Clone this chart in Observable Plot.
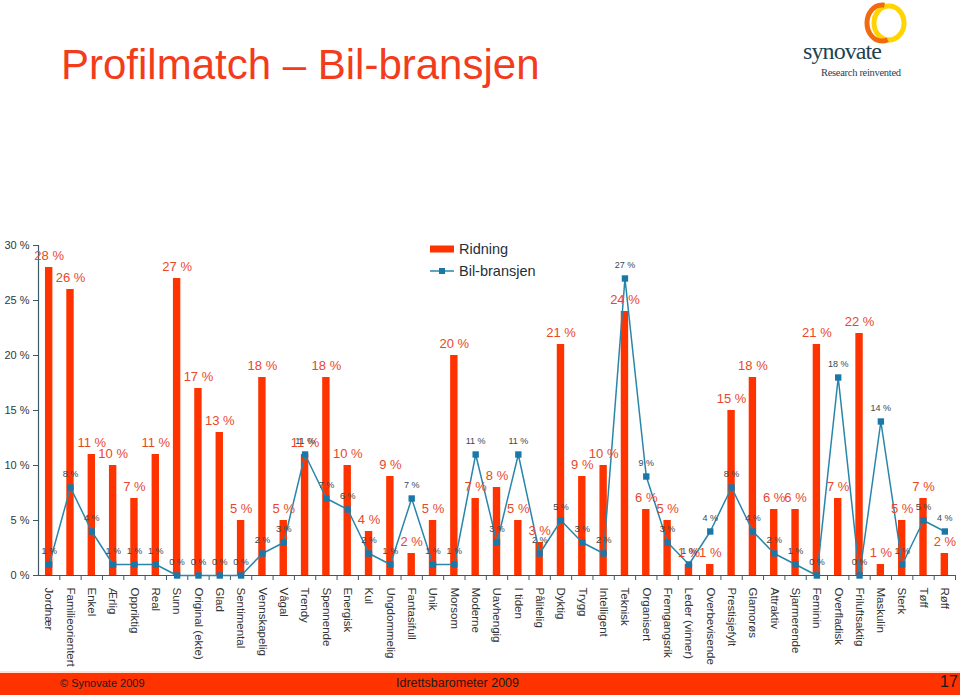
<!DOCTYPE html>
<html><head><meta charset="utf-8">
<script src="https://cdn.jsdelivr.net/npm/d3@7"></script>
<script src="https://cdn.jsdelivr.net/npm/@observablehq/plot@0.6"></script>
<style>
body{margin:0;width:960px;height:695px;position:relative;background:#fff;font-family:"Liberation Sans",Arial,sans-serif;overflow:hidden}
#title{position:absolute;left:61px;top:44px;font-size:42px;line-height:1;color:#f23c1c;white-space:nowrap}
#chart{position:absolute;left:0;top:230px;width:960px}
#legend{position:absolute;left:430px;top:238px;font-size:14.5px;color:#1f2f3a;line-height:22px}
#legend div{display:flex;align-items:center;height:22px}
#legend svg{margin-right:5px}
#footer{position:absolute;left:0;top:671px;width:960px;height:24px;background:#ff3300;border-top:2px solid #ffe0d2;box-sizing:border-box;color:#1a1a1a}
#footer span{position:absolute;top:3px;white-space:nowrap}
#logo{position:absolute;left:780px;top:0px}
</style></head>
<body>
<div id="title">Profilmatch – Bil-bransjen</div>
<svg id="logo" width="180" height="85">
  <ellipse cx="109" cy="23" rx="15" ry="17" fill="none" stroke="#ffd400" stroke-width="5"/>
  <ellipse cx="102" cy="23" rx="15" ry="18" fill="none" stroke="#f26a10" stroke-width="5" stroke-dasharray="60 40" stroke-dashoffset="-20"/>
  <text x="23" y="59" font-family="Liberation Serif, DejaVu Serif, serif" font-size="24" fill="#1d4352" textLength="79">synovate</text>
  <text x="41" y="76" font-family="Liberation Serif, DejaVu Serif, serif" font-size="10.5" fill="#1d4352" textLength="80">Research reinvented</text>
</svg>
<div id="chart"></div>
<div id="legend">
  <div><svg width="24" height="10"><rect x="0" y="1.5" width="24" height="7" fill="#ff3300"/></svg>Ridning</div>
  <div><svg width="24" height="10"><line x1="0" y1="5" x2="24" y2="5" stroke="#2a86a8" stroke-width="1.5"/><rect x="9" y="2" width="6" height="6" fill="#1a78a8"/></svg>Bil-bransjen</div>
</div>
<div id="footer">
  <span style="left:60px;font-size:11px;top:4px">© Synovate 2009</span>
  <span style="left:396px;font-size:12.5px;top:3px">Idrettsbarometer 2009</span>
  <span style="left:940px;font-size:16px;top:0px">17</span>
</div>
<script>
const categories = ["Jordnær","Familieorientert","Enkel","Ærlig","Oppriktig","Real","Sunn","Original (ekte)","Glad","Sentimental",
  "Vennskapelig","Vågal","Trendy","Spennende","Energisk","Kul","Ungdommelig","Fantasifull","Unik","Morsom",
  "Moderne","Uavhengig","I tiden","Pålitelig","Dyktig","Trygg","Intelligent","Teknisk","Organisert","Fremgangsrik",
  "Leder (vinner)","Overbevisende","Prestisjefylt","Glamorøs","Attraktiv","Sjarmerende","Feminin","Overfladisk","Friluftsaktig","Maskulin",
  "Sterk","Tøff","Røff"];
const ridning = [28,26,11,10,7,11,27,17,13,5,18,5,11,18,10,4,9,2,5,20,7,8,5,3,21,9,10,24,6,5,1,1,15,18,6,6,21,7,22,1,5,7,2];
const bilbransjen = [1,8,4,1,1,1,0,0,0,0,2,3,11,7,6,2,1,7,1,1,11,3,11,2,5,3,2,27,9,3,1,4,8,4,2,1,0,18,0,14,1,5,4];
const yTicks = [0,5,10,15,20,25,30];

const data = categories.map((c,i)=>({cat:c, r:ridning[i], b:bilbransjen[i]}));
const W = 960, H = 440, mL = 38, mR = 5, mT = 15, mB = 95;
const step = (W - mL - mR) / categories.length;
const barInset = (step - 7.4) / 2;
const axisColor = "#3d5a66";

const chart = Plot.plot({
  width: W, height: H,
  marginLeft: mL, marginRight: mR, marginTop: mT, marginBottom: mB,
  style: {fontFamily: "'Liberation Sans', Arial, sans-serif", background: "transparent"},
  x: {type: "band", domain: categories, padding: 0, round: false, label: null},
  y: {domain: [0, 30], label: null},
  marks: [
    Plot.barY(data, {x: "cat", y: "r", fill: "#ff3300", insetLeft: barInset, insetRight: barInset}),
    Plot.ruleY([0], {stroke: axisColor, strokeWidth: 1.2}),
    Plot.ruleX([categories[0]], {dx: -step/2, y1: 0, y2: 30, stroke: axisColor, strokeWidth: 1.2}),
    Plot.ruleX(categories, {x: d => d, dx: step/2, y1: 0, y2: 0, insetBottom: -5, stroke: axisColor}),
    Plot.axisY({ticks: yTicks, tickFormat: d => d + " %", tickSize: 5, tickPadding: 4, fontSize: 11, stroke: axisColor, color: "#2b3a44"}),
    Plot.axisX({tickRotate: 90, tickSize: 0, tickPadding: 12, fontSize: 11.5, color: "#333"}),
    Plot.lineY(data, {x: "cat", y: "b", stroke: "#2a86a8", strokeWidth: 1.5}),
    Plot.dot(data, {x: "cat", y: "b", symbol: "square", r: 3.6, fill: "#1a78a8"}),
    Plot.text(data, {x: "cat", y: "r", text: d => d.r + " %", dy: -12, fill: "#e8482a", fontSize: 13}),
    Plot.text(data, {x: "cat", y: "b", text: d => d.b + " %", dy: -13, fill: "#3a4650", fontSize: 9})
  ]
});
document.getElementById("chart").appendChild(chart);
</script>
</body></html>
